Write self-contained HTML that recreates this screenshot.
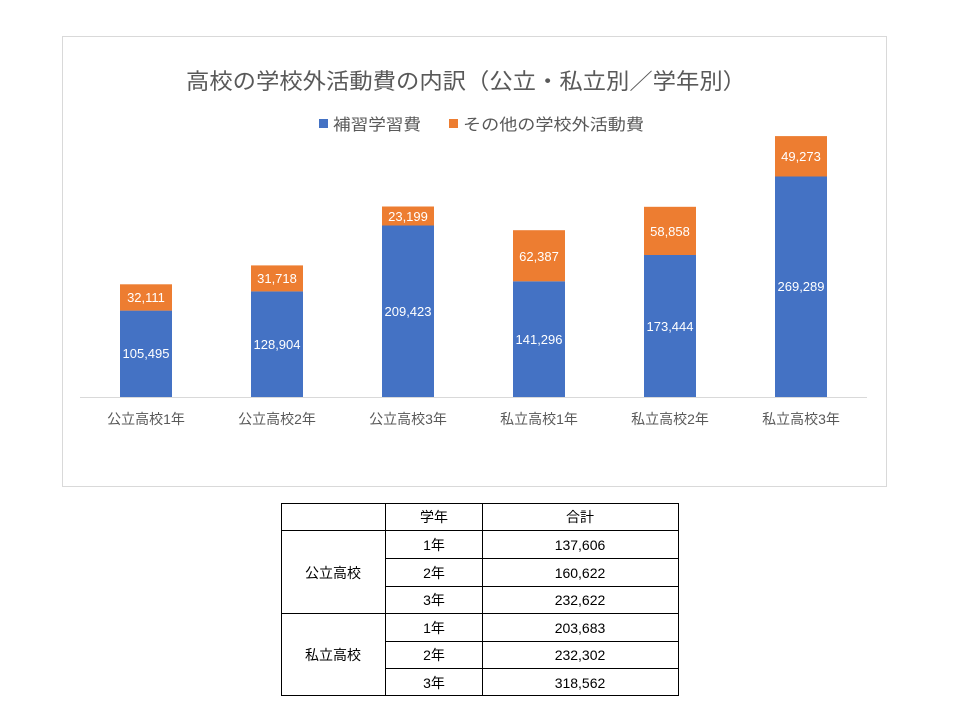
<!DOCTYPE html>
<html><head><meta charset="utf-8"><style>
body{margin:0;background:#fff;}
text{font-family:"Liberation Sans","Noto Sans CJK JP",sans-serif;}
</style></head><body>
<svg width="960" height="720" viewBox="0 0 960 720" xmlns="http://www.w3.org/2000/svg">
<rect x="62.5" y="36.5" width="824" height="450" fill="#fff" stroke="#d9d9d9"/>
<text x="186" y="89" font-size="22" fill="#595959" textLength="560" lengthAdjust="spacingAndGlyphs">高校の学校外活動費の内訳（公立・私立別／学年別）</text>
<rect x="319" y="119" width="9" height="9" fill="#4472c4"/>
<text x="333" y="130" font-size="16" fill="#595959" textLength="88" lengthAdjust="spacingAndGlyphs">補習学習費</text>
<rect x="449" y="119" width="9" height="9" fill="#ed7d31"/>
<text x="463" y="130" font-size="16" fill="#595959" textLength="181" lengthAdjust="spacingAndGlyphs">その他の学校外活動費</text>
<line x1="80" y1="397.5" x2="867" y2="397.5" stroke="#d9d9d9"/>
<g font-size="13" text-anchor="middle" fill="#fff">
<rect x="120" y="310.6" width="52" height="86.4" fill="#4472c4"/><rect x="120" y="284.3" width="52" height="26.3" fill="#ed7d31"/>
<text x="146" y="358">105,495</text><text x="146" y="302">32,111</text>
<rect x="251" y="291.4" width="52" height="105.6" fill="#4472c4"/><rect x="251" y="265.4" width="52" height="26" fill="#ed7d31"/>
<text x="277" y="349">128,904</text><text x="277" y="283">31,718</text>
<rect x="382" y="225.5" width="52" height="171.5" fill="#4472c4"/><rect x="382" y="206.5" width="52" height="19" fill="#ed7d31"/>
<text x="408" y="316">209,423</text><text x="408" y="221">23,199</text>
<rect x="513" y="281.3" width="52" height="115.7" fill="#4472c4"/><rect x="513" y="230.2" width="52" height="51.1" fill="#ed7d31"/>
<text x="539" y="344">141,296</text><text x="539" y="261">62,387</text>
<rect x="644" y="255" width="52" height="142" fill="#4472c4"/><rect x="644" y="206.8" width="52" height="48.2" fill="#ed7d31"/>
<text x="670" y="331">173,444</text><text x="670" y="236">58,858</text>
<rect x="775" y="176.5" width="52" height="220.5" fill="#4472c4"/><rect x="775" y="136.1" width="52" height="40.4" fill="#ed7d31"/>
<text x="801" y="291">269,289</text><text x="801" y="161">49,273</text>
</g>
<g font-size="14" text-anchor="middle" fill="#595959">
<text x="146" y="424">公立高校1年</text><text x="277" y="424">公立高校2年</text><text x="408" y="424">公立高校3年</text>
<text x="539" y="424">私立高校1年</text><text x="670" y="424">私立高校2年</text><text x="801" y="424">私立高校3年</text>
</g>
<g stroke="#000" stroke-width="1" fill="none">
<rect x="281.5" y="503.5" width="397" height="192"/>
<line x1="385.5" y1="503" x2="385.5" y2="696"/>
<line x1="482.5" y1="503" x2="482.5" y2="696"/>
<line x1="281" y1="530.5" x2="679" y2="530.5"/>
<line x1="385" y1="558.5" x2="679" y2="558.5"/>
<line x1="385" y1="586.5" x2="679" y2="586.5"/>
<line x1="281" y1="613.5" x2="679" y2="613.5"/>
<line x1="385" y1="641.5" x2="679" y2="641.5"/>
<line x1="385" y1="668.5" x2="679" y2="668.5"/>
</g>
<g font-size="14" text-anchor="middle" fill="#000">
<text x="434" y="522">学年</text><text x="580" y="522">合計</text>
<text x="333" y="578">公立高校</text><text x="333" y="660">私立高校</text>
<text x="434" y="550">1年</text><text x="580" y="550">137,606</text>
<text x="434" y="578">2年</text><text x="580" y="578">160,622</text>
<text x="434" y="605">3年</text><text x="580" y="605">232,622</text>
<text x="434" y="633">1年</text><text x="580" y="633">203,683</text>
<text x="434" y="660">2年</text><text x="580" y="660">232,302</text>
<text x="434" y="688">3年</text><text x="580" y="688">318,562</text>
</g>
</svg>
</body></html>
